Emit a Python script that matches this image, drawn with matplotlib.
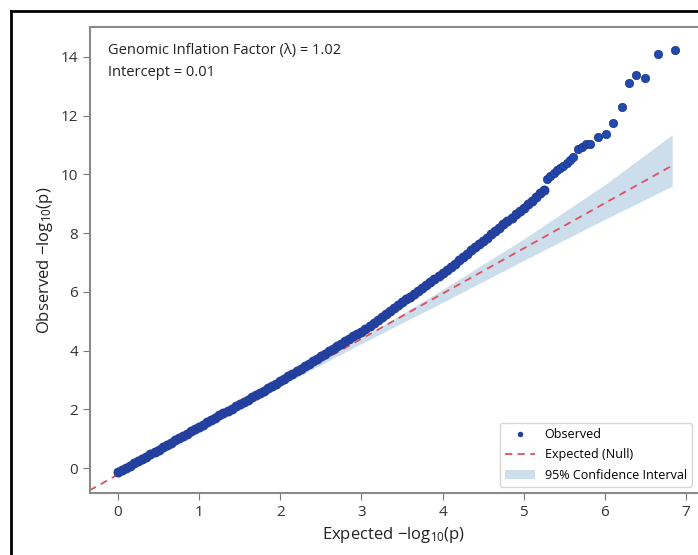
import matplotlib
matplotlib.use("Agg")
import matplotlib.pyplot as plt
from matplotlib.lines import Line2D

plt.rcParams['font.family'] = ['Open Sans', 'DejaVu Sans']
plt.rcParams['mathtext.fontset'] = 'custom'
plt.rcParams['mathtext.rm'] = 'Open Sans'

# Observed -log10(p) against expected quantiles (dense part)
obs_x = [0.00, 0.05, 0.10, 0.15, 0.20, 0.25, 0.30, 0.35, 0.40, 0.45,
         0.50, 0.55, 0.60, 0.65, 0.70, 0.75, 0.80, 0.85, 0.90, 0.95,
         1.00, 1.05, 1.10, 1.15, 1.20, 1.25, 1.30, 1.35, 1.40, 1.45,
         1.50, 1.55, 1.60, 1.65, 1.70, 1.75, 1.80, 1.85, 1.90, 1.95,
         2.00, 2.05, 2.10, 2.15, 2.20, 2.25, 2.30, 2.35, 2.40, 2.45,
         2.50, 2.55, 2.60, 2.65, 2.70, 2.75, 2.80, 2.85, 2.90, 2.95,
         3.00, 3.05, 3.10, 3.15, 3.20, 3.25, 3.30, 3.35, 3.40, 3.45,
         3.50, 3.55, 3.60, 3.65, 3.70, 3.75, 3.80, 3.85, 3.90, 3.95,
         4.00, 4.05, 4.10, 4.15, 4.20, 4.25, 4.30, 4.35, 4.40, 4.45,
         4.50, 4.55, 4.60, 4.65, 4.70, 4.75, 4.80, 4.85, 4.90, 4.95,
         5.00, 5.05, 5.10, 5.15, 5.20, 5.25]
obs_y = [-0.15, -0.07, 0.01, 0.08, 0.16, 0.24, 0.32, 0.39, 0.47, 0.55,
         0.63, 0.70, 0.78, 0.86, 0.94, 1.01, 1.09, 1.17, 1.25, 1.32,
         1.40, 1.48, 1.56, 1.63, 1.71, 1.79, 1.87, 1.94, 2.02, 2.10,
         2.18, 2.25, 2.33, 2.41, 2.49, 2.56, 2.64, 2.72, 2.80, 2.87,
         2.95, 3.03, 3.12, 3.20, 3.29, 3.37, 3.46, 3.54, 3.63, 3.71,
         3.80, 3.88, 3.97, 4.05, 4.14, 4.22, 4.31, 4.39, 4.48, 4.56,
         4.65, 4.75, 4.85, 4.95, 5.05, 5.14, 5.24, 5.34, 5.44, 5.54,
         5.64, 5.74, 5.84, 5.94, 6.04, 6.13, 6.23, 6.33, 6.43, 6.53,
         6.63, 6.74, 6.85, 6.96, 7.07, 7.18, 7.30, 7.41, 7.52, 7.63,
         7.74, 7.85, 7.97, 8.08, 8.19, 8.30, 8.41, 8.52, 8.64, 8.75,
         8.86, 8.98, 9.10, 9.22, 9.35, 9.48]

# Sparse tail of the strongest signals
tail_x = [5.29, 5.33, 5.37, 5.41, 5.45, 5.49, 5.53, 5.57, 5.61, 5.67,
          5.72, 5.77, 5.82, 5.92, 6.02, 6.10, 6.21, 6.30, 6.39, 6.50,
          6.65, 6.86]
tail_y = [9.85, 9.95, 10.05, 10.15, 10.22, 10.30, 10.40, 10.50, 10.58, 10.85,
          10.95, 11.02, 11.05, 11.28, 11.38, 11.75, 12.28, 13.12, 13.38, 13.30,
          14.10, 14.25]

# Expected (null) line
exp_x = [-0.35, 6.83]
exp_y = [-0.76, 10.30]

# 95% confidence band
ci_x = [0.0, 1.0, 2.0, 3.0, 4.0, 5.0, 6.0, 6.83]
ci_lo = [-0.23, 1.30, 2.80, 4.24, 5.64, 7.07, 8.47, 9.60]
ci_hi = [-0.21, 1.34, 2.90, 4.42, 6.08, 7.80, 9.65, 11.35]

lambda_gc = 1.02
intercept = 0.01

fig = plt.figure(figsize=(6.98, 5.55), dpi=100)
ax = fig.add_axes([90 / 698, 1 - 493 / 555, 1 - 90 / 698, (493 - 27) / 555])

band = ax.fill_between(ci_x, ci_lo, ci_hi, color='#c4d7e8', alpha=0.85, linewidth=0,
                       label='95% Confidence Interval', zorder=1)
line, = ax.plot(exp_x, exp_y, linestyle='--', color='#e0505e', linewidth=1.3,
                dashes=(4, 3), label='Expected (Null)', zorder=2)
pts = ax.scatter(obs_x, obs_y, s=52, color='#23409f', linewidth=0,
                 label='Observed', zorder=3)
ax.scatter(tail_x, tail_y, s=36, color='#1f4bb0', edgecolor='#1c2f85',
           linewidth=0.5, zorder=3)

ax.set_xlim(-0.345, 7.148)
ax.set_ylim(-0.85, 15.02)
ax.set_xticks(range(0, 8))
ax.set_yticks(range(0, 15, 2))

for side in ['left', 'bottom', 'top']:
    ax.spines[side].set_color('#8a8a8a')
    ax.spines[side].set_linewidth(1.5)
ax.spines['right'].set_visible(False)
ax.tick_params(colors='#333333', labelsize=11, length=5, color='#777777')

ax.set_xlabel(r'Expected $\mathregular{-log_{10}(p)}$', fontsize=12, color='#222222')
ax.set_ylabel(r'Observed $\mathregular{-log_{10}(p)}$', fontsize=12, color='#222222')

ax.text(0.03, 0.965,
        f'Genomic Inflation Factor (\u03bb) = {lambda_gc:.2f}\nIntercept = {intercept:.2f}',
        transform=ax.transAxes, ha='left', va='top', fontsize=10.5,
        color='#222222', linespacing=1.6)

leg = ax.legend([pts, line, band], ['Observed', 'Expected (Null)', '95% Confidence Interval'],
                loc='lower right', fontsize=9, frameon=True, borderaxespad=0.5,
                handlelength=2.4, labelspacing=0.6, markerscale=0.55)
leg.get_frame().set_edgecolor('#cccccc')

# Outer frame of the screenshot (left and top edges)
fig.add_artist(Line2D([10.5 / 698, 10.5 / 698], [0, 1 - 10.5 / 555],
                      color='black', linewidth=2, transform=fig.transFigure))
fig.add_artist(Line2D([10.5 / 698, 1], [1 - 10.5 / 555, 1 - 10.5 / 555],
                      color='black', linewidth=2, transform=fig.transFigure))

fig.savefig('out.png', dpi=100)
